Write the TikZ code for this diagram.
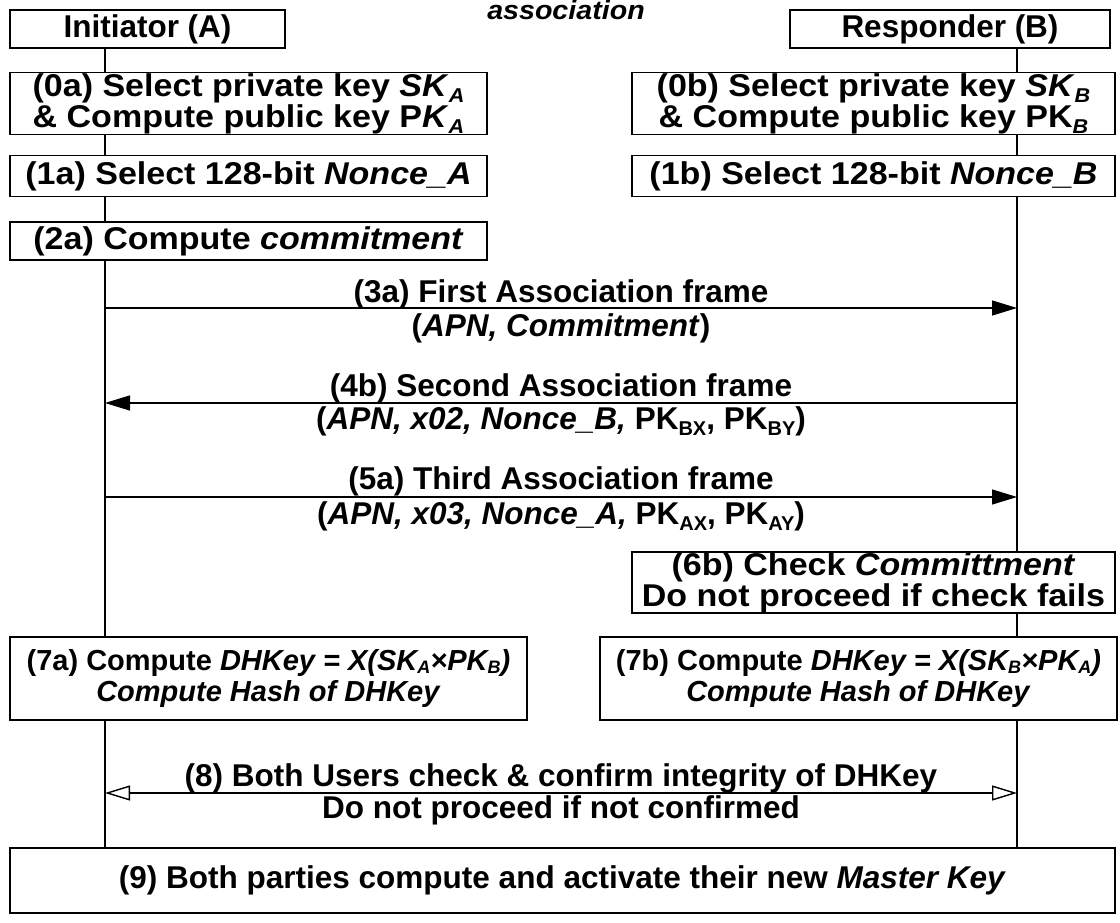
\documentclass[tikz,border=0pt]{standalone}
\usepackage{fontspec}
\setmainfont{Liberation Sans}
\newfontfamily\widesans{Liberation Sans}[FakeStretch=1.08]
\usetikzlibrary{arrows.meta,backgrounds}
\newcommand{\sbi}[1]{\raisebox{-0.2em}{\fontsize{20}{20}\selectfont\itshape #1}}
\newcommand{\sbs}[1]{\raisebox{-0.12em}{\fontsize{18}{18}\selectfont\itshape #1}}
\newcommand{\sbu}[1]{\raisebox{-0.22em}{\fontsize{20}{20}\selectfont #1}}
\begin{document}
\begin{tikzpicture}[x=1pt,y=-1pt,
 box/.style={draw,line width=1.4pt,fill=white,inner sep=0pt,align=center,
   font=\fontsize{31.5}{31}\selectfont\bfseries},
 wbox/.style={box,font=\fontsize{31.5}{31}\selectfont\widesans\bfseries},
 smallbox/.style={box,font=\fontsize{29}{31}\selectfont\bfseries},
 lbl/.style={inner sep=0pt,anchor=base,font=\fontsize{31.5}{31}\selectfont\bfseries},
 life/.style={line width=1.4pt},
 msg/.style={line width=1.4pt,-{Triangle[length=25pt,width=15pt]}},
 dmsg/.style={line width=1.4pt,{Triangle[open,length=25pt,width=15pt]}-{Triangle[open,length=25pt,width=15pt]}}]
\useasboundingbox (0,0) rectangle (1120,923);

\node[lbl,font=\fontsize{26.5}{28}\selectfont\widesans\bfseries\itshape] (title) at (566,20) {association};

\coordinate (lA) at (105,0);
\coordinate (lB) at (1017,0);

\node[box,minimum width=275pt,minimum height=38pt] (iniA) at (147.5,29) {Initiator (A)};
\node[box,minimum width=320pt,minimum height=38pt] (resB) at (950,29) {Responder (B)};

\node[wbox,minimum width=477pt,minimum height=62pt] (s0a) at (248.5,103.5)
  {(0a) Select private key \textit{SK}\sbi{A}\\ \& Compute public key P\textit{K}\sbi{A}};
\node[wbox,minimum width=483pt,minimum height=62pt] (s0b) at (873.5,103.5)
  {(0b) Select private key \textit{SK}\sbi{B}\\ \& Compute public key PK\sbi{B}};

\node[wbox,minimum width=477pt,minimum height=41pt] (s1a) at (248.5,176)
  {(1a) Select 128-bit \textit{Nonce\_A}};
\node[wbox,minimum width=483pt,minimum height=41pt] (s1b) at (873.5,176)
  {(1b) Select 128-bit \textit{Nonce\_B}};

\node[wbox,minimum width=477pt,minimum height=38pt] (s2a) at (248.5,241)
  {(2a) Compute \textit{commitment}};

% message 3a
\coordinate (m3a) at (lA |- 0,308);
\coordinate (m3b) at (lB |- 0,308);
\draw[msg] (m3a) -- (m3b);
\node[lbl] (t3a) at (561,302) {(3a) First Association frame};
\node[lbl] (u3a) at (561,336) {(\textit{APN, Commitment})};

% message 4b
\coordinate (m4b) at (lB |- 0,403);
\coordinate (m4a) at (lA |- 0,403);
\draw[msg] (m4b) -- (m4a);
\node[lbl] (t4b) at (561,396) {(4b) Second Association frame};
\node[lbl] (u4b) at (561,429) {(\textit{APN, x02, Nonce\_B,} PK\sbu{BX}, PK\sbu{BY})};

% message 5a
\coordinate (m5a) at (lA |- 0,497);
\coordinate (m5b) at (lB |- 0,497);
\draw[msg] (m5a) -- (m5b);
\node[lbl] (t5a) at (561,489) {(5a) Third Association frame};
\node[lbl] (u5a) at (561,524) {(\textit{APN, x03, Nonce\_A,} PK\sbu{AX}, PK\sbu{AY})};

\node[wbox,minimum width=483pt,minimum height=61pt] (s6b) at (873.5,582.5)
  {(6b) Check \textit{Committment}\\Do not proceed if check fails};

\node[smallbox,minimum width=517pt,minimum height=83pt] (s7a) at (268.5,678.5)
  {(7a) Compute \textit{DHKey = X(SK\sbs{A}×PK\sbs{B})}\\\textit{Compute Hash of DHKey}};
\node[smallbox,minimum width=517pt,minimum height=83pt] (s7b) at (858.5,678.5)
  {(7b) Compute \textit{DHKey = X(SK\sbs{B}×PK\sbs{A})}\\\textit{Compute Hash of DHKey}};

% message 8
\coordinate (m8a) at (lA |- 0,793);
\coordinate (m8b) at (lB |- 0,793);
\draw[dmsg] (m8a) -- (m8b);
\node[lbl] (t8) at (561,786) {(8) Both Users check \& confirm integrity of DHKey};
\node[lbl] (u8) at (561,818) {Do not proceed if not confirmed};

\node[box,minimum width=1105pt,minimum height=65pt] (s9) at (562.5,880.5)
  {(9) Both parties compute and activate their new \textit{Master Key}};

\begin{scope}[on background layer]
\draw[life] (iniA.south -| lA) -- (s9.north -| lA);
\draw[life] (resB.south -| lB) -- (s9.north -| lB);
\end{scope}
\end{tikzpicture}
\end{document}
